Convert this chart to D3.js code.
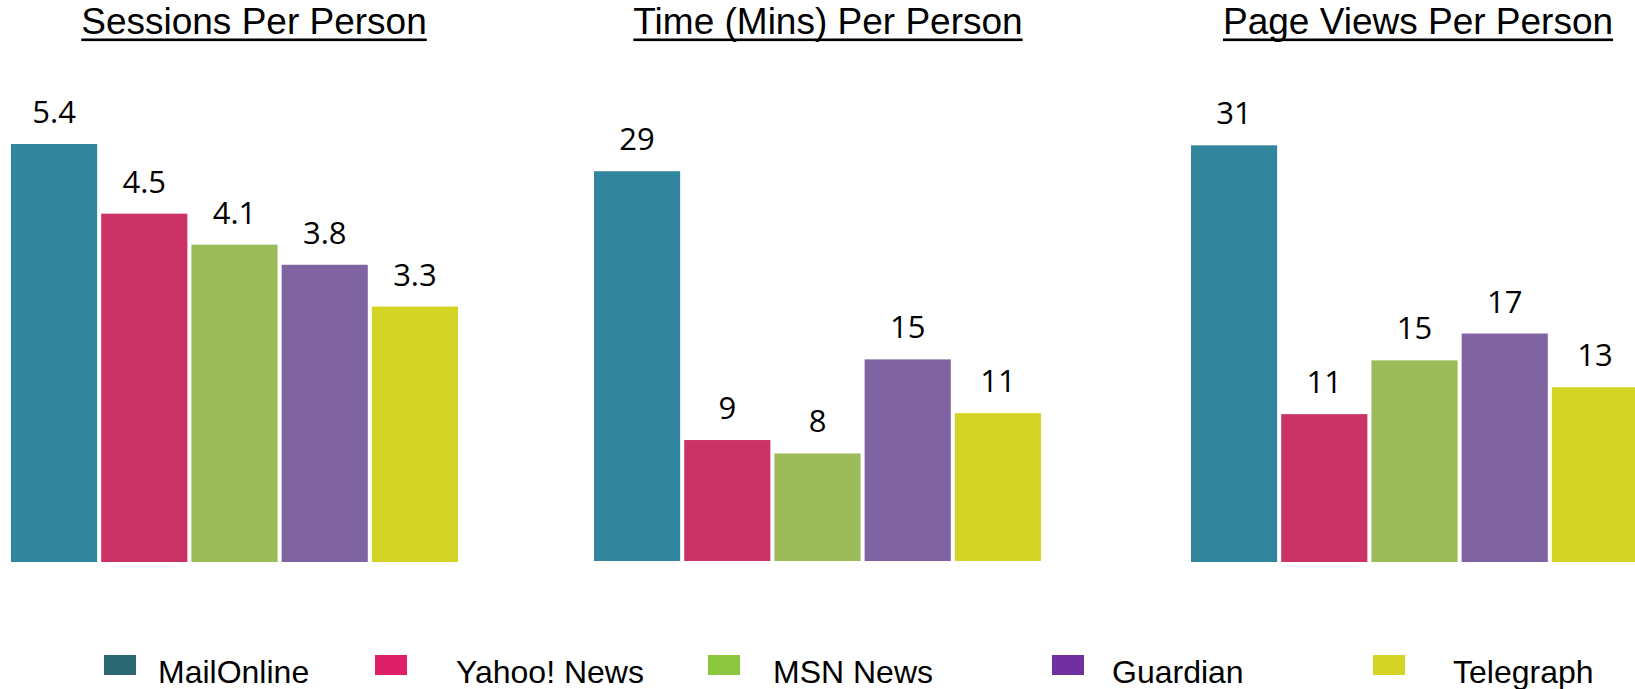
<!DOCTYPE html>
<html>
<head>
<meta charset="utf-8">
<script src="https://cdn.jsdelivr.net/npm/d3@7"></script>
<style>
  html, body { margin: 0; padding: 0; background: #fff; }
  svg { display: block; }
</style>
</head>
<body>
<svg id="chart" width="1635" height="689"></svg>
<script>
// ---------- data ----------
const sites = ["MailOnline", "Yahoo! News", "MSN News", "Guardian", "Telegraph"];
const panelTitles = ["Sessions Per Person", "Time (Mins) Per Person", "Page Views Per Person"];
const sessionsPerPerson = [5.4, 4.5, 4.1, 3.84, 3.3];
const timePerPerson = [29, 9, 8, 15, 11];
const pageViewsPerPerson = [31, 11, 15, 17, 13];
const valueLabelsSessions = ["5.4", "4.5", "4.1", "3.8", "3.3"];
const valueLabelsTime = ["29", "9", "8", "15", "11"];
const valueLabelsPages = ["31", "11", "15", "17", "13"];

// ---------- styles / layout ----------
const barColors = ["#31859c", "#cb3266", "#9bbb59", "#8064a2", "#d4d426"];
const legendColors = ["#2a6773", "#dc1f66", "#8cc63f", "#7030a0", "#d4d424"];
const panelX = [11, 594, 1191];
const panelW = 447;
const titleCX = [254, 828, 1418];
const domainMax = [5.4, 31.1, 31.1];
const baseY = [562, 561, 562];
const plotH = 418;
const legendSquareX = [104, 375, 708, 1052, 1373];
const legendTextX = [158, 456, 773, 1112, 1453];

const panels = [
  { title: panelTitles[0], values: sessionsPerPerson, labels: valueLabelsSessions },
  { title: panelTitles[1], values: timePerPerson, labels: valueLabelsTime },
  { title: panelTitles[2], values: pageViewsPerPerson, labels: valueLabelsPages }
];

const svg = d3.select("#chart");

panels.forEach((p, i) => {
  const g = svg.append("g");
  const x = d3.scaleBand().domain(sites).range([panelX[i], panelX[i] + panelW]).paddingInner(0.045).paddingOuter(0);
  const y = d3.scaleLinear().domain([0, domainMax[i]]).range([baseY[i], baseY[i] - plotH]);
  // bars
  g.selectAll("rect.bar").data(p.values).join("rect")
    .attr("class", "bar")
    .attr("x", (d, j) => x(sites[j]))
    .attr("width", x.bandwidth())
    .attr("y", d => y(d))
    .attr("height", d => y(0) - y(d))
    .attr("fill", (d, j) => barColors[j]);
  // value labels
  g.selectAll("text.val").data(p.values).join("text")
    .attr("class", "val")
    .attr("x", (d, j) => x(sites[j]) + x.bandwidth() / 2)
    .attr("y", d => y(d) - 21)
    .attr("text-anchor", "middle")
    .attr("font-family", "'Open Sans', sans-serif")
    .attr("font-size", 31)
    .attr("fill", "#000")
    .text((d, j) => p.labels[j]);
  // title
  const t = g.append("text")
    .attr("x", titleCX[i])
    .attr("y", 34)
    .attr("text-anchor", "middle")
    .attr("font-family", "'Liberation Sans', Arial, sans-serif")
    .attr("font-size", 37)
    .attr("fill", "#000")
    .text(p.title);
  const w = t.node().getComputedTextLength();
  g.append("rect")
    .attr("x", titleCX[i] - w / 2)
    .attr("y", 38.5)
    .attr("width", w)
    .attr("height", 2.6)
    .attr("fill", "#000");
});

// legend
const lg = svg.append("g");
sites.forEach((s, j) => {
  lg.append("rect")
    .attr("x", legendSquareX[j])
    .attr("y", 655)
    .attr("width", 32)
    .attr("height", 20)
    .attr("fill", legendColors[j]);
  lg.append("text")
    .attr("x", legendTextX[j])
    .attr("y", 683)
    .attr("font-family", "'Liberation Sans', Arial, sans-serif")
    .attr("font-size", 32)
    .attr("fill", "#000")
    .text(s);
});
</script>
</body>
</html>
